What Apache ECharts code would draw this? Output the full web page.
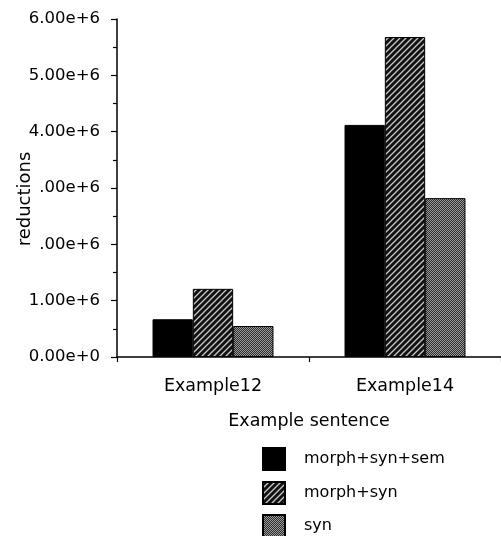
<!DOCTYPE html>
<html><head><meta charset="utf-8">
<script src="https://cdn.jsdelivr.net/npm/echarts@6/dist/echarts.min.js"></script>
<style>html,body{margin:0;padding:0;background:#fff}#c{width:501px;height:536px}</style>
</head><body><div id="c"></div>
<script>
var categories = ['Example12', 'Example14'];
var seriesNames = ['morph+syn+sem', 'morph+syn', 'syn'];
var valsMorphSynSem = [0.67e6, 4.12e6];
var valsMorphSyn = [1.21e6, 5.68e6];
var valsSyn = [0.55e6, 2.82e6];
var yTickLabels = ['0.00e+0', '1.00e+6', '.00e+6', '.00e+6', '4.00e+6', '5.00e+6', '6.00e+6'];

function hatch() {
  var c = document.createElement('canvas'); c.width = 6; c.height = 6;
  var g = c.getContext('2d');
  g.fillStyle = '#111'; g.fillRect(0, 0, 6, 6);
  g.strokeStyle = '#c8c8c8'; g.lineWidth = 1.3;
  g.beginPath();
  g.moveTo(-1, 7); g.lineTo(7, -1);
  g.moveTo(-4, 4); g.lineTo(4, -4);
  g.moveTo(2, 10); g.lineTo(10, 2);
  g.stroke();
  return c;
}
function stipple() {
  var c = document.createElement('canvas'); c.width = 4; c.height = 4;
  var g = c.getContext('2d');
  g.fillStyle = '#2e2e2e'; g.fillRect(0, 0, 4, 4);
  g.fillStyle = '#9a9a9a';
  g.fillRect(0, 0, 1, 1); g.fillRect(2, 0, 1, 1);
  g.fillRect(1, 1, 1, 1); g.fillRect(3, 1, 1, 1);
  g.fillRect(0, 2, 1, 1); g.fillRect(2, 2, 1, 1);
  g.fillRect(1, 3, 1, 1); g.fillRect(3, 3, 1, 1);
  return c;
}
var fills = ['#000', {image: hatch(), repeat: 'repeat'}, {image: stipple(), repeat: 'repeat'}];
var dataArr = [valsMorphSynSem, valsMorphSyn, valsSyn];
var font = 'DejaVu Sans';
var legendTops = [447, 481, 514];

var chart = echarts.init(document.getElementById('c'), null, {renderer: 'canvas'});
chart.setOption({
  animation: false,
  textStyle: {fontFamily: font},
  grid: {left: 117, right: 0, top: 19, bottom: 179, containLabel: false, outerBoundsMode: 'none'},
  legend: seriesNames.map(function (n, i) {
    return {
      orient: 'vertical', left: 262, top: legendTops[i], padding: 0,
      itemWidth: 22, itemHeight: 22, icon: 'rect',
      textStyle: {fontFamily: font, fontSize: 16, color: '#000', padding: [0, 0, 0, 14]},
      data: [n]
    };
  }),
  xAxis: {
    type: 'category', data: categories,
    name: 'Example sentence', nameLocation: 'middle', nameGap: 55,
    nameTextStyle: {fontFamily: font, fontSize: 17.5, color: '#000'},
    axisLine: {lineStyle: {color: '#000', width: 1.5}},
    axisTick: {show: true, length: 5, lineStyle: {color: '#000', width: 1.2}},
    axisLabel: {fontFamily: font, fontSize: 17.5, color: '#000', margin: 20}
  },
  yAxis: {
    type: 'value', min: 0, max: 6e6, interval: 1e6,
    name: 'reductions', nameLocation: 'middle', nameGap: 83, nameRotate: 90,
    nameMoveOverlap: false,
    nameTextStyle: {fontFamily: font, fontSize: 18, color: '#000', padding: [0, 22, 0, 0]},
    axisLine: {show: true, lineStyle: {color: '#000', width: 1.5}},
    axisTick: {show: true, length: 6, lineStyle: {color: '#000', width: 1.2}},
    minorTick: {show: true, splitNumber: 2, length: 4, lineStyle: {color: '#000', width: 1.2}},
    splitLine: {show: false},
    axisLabel: {fontFamily: font, fontSize: 16.5, color: '#000', margin: 17,
      formatter: function (v) { return yTickLabels[Math.round(v / 1e6)]; }}
  },
  series: seriesNames.map(function (n, i) {
    return {
      name: n, type: 'bar', data: dataArr[i],
      barGap: '0%', barCategoryGap: '37%',
      itemStyle: {color: fills[i], borderColor: '#000', borderWidth: 1}
    };
  })
});
</script></body></html>
